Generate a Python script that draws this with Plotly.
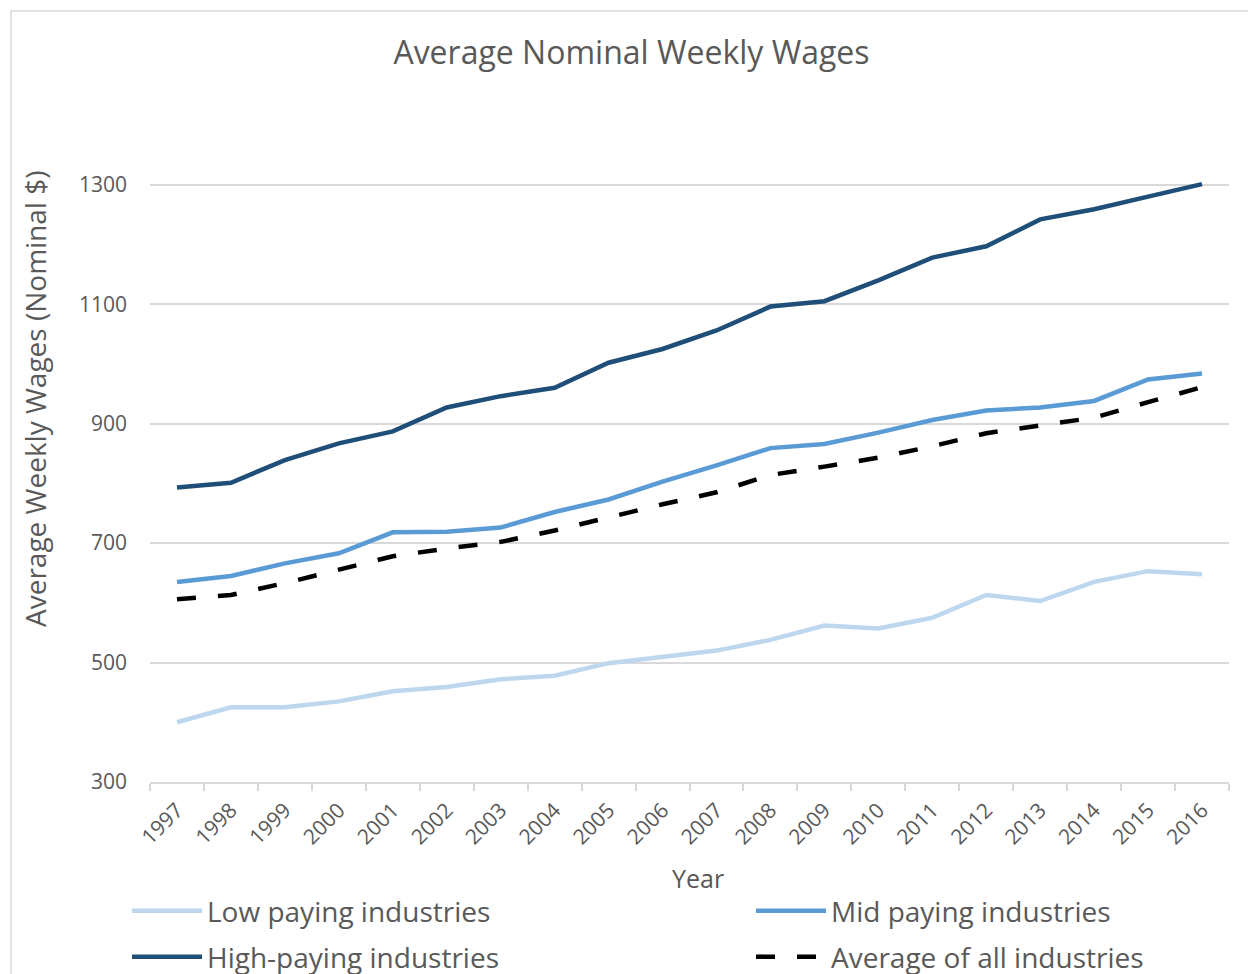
import plotly.graph_objects as go

years = [str(y) for y in range(1997, 2017)]
low_paying = [400, 425, 425, 435, 452, 459, 472, 478, 499, 510, 520, 538, 562, 557, 575, 613, 603, 635, 653, 648]
mid_paying = [635, 645, 666, 683, 718, 719, 726, 752, 773, 803, 830, 859, 866, 885, 906, 922, 927, 938, 974, 984]
high_paying = [793, 801, 839, 867, 887, 927, 946, 960, 1002, 1025, 1056, 1096, 1105, 1140, 1178, 1197, 1242, 1259, 1280, 1301]
average_all = [606, 613, 633, 656, 678, 691, 702, 721, 743, 765, 785, 814, 828, 843, 862, 884, 897, 910, 936, 961]
y_ticks = [300, 500, 700, 900, 1100, 1300]

FONT = "Open Sans"
GREY = "#595959"
W, H = 1248, 974
ML, MR, MT, MB = 150, 19, 125, 192
pw = W - ML - MR
ph = H - MT - MB

fig = go.Figure()
fig.add_trace(go.Scatter(x=years, y=low_paying, mode="lines", name="Low paying industries",
                         legend="legend", line=dict(color="#BDD7EE", width=4.5)))
fig.add_trace(go.Scatter(x=years, y=mid_paying, mode="lines", name="Mid paying industries",
                         legend="legend2", line=dict(color="#5B9BD5", width=4.5)))
fig.add_trace(go.Scatter(x=years, y=high_paying, mode="lines", name="High-paying industries",
                         legend="legend3", line=dict(color="#1F4E79", width=4.5)))
fig.add_trace(go.Scatter(x=years, y=average_all, mode="lines", name="Average of all industries",
                         legend="legend4", line=dict(color="#000000", width=4.5, dash="19px,22px")))

fig.add_shape(type="rect", xref="paper", yref="paper",
              x0=(11 - ML) / pw, x1=(W + 20 - ML) / pw,
              y0=-(H + 20 - MT - ph) / ph, y1=(H - MB - 11) / ph,
              line=dict(color="#D9D9D9", width=1.5), fillcolor="rgba(0,0,0,0)", layer="below")

fig.add_annotation(text="Average Weekly Wages (Nominal $)", textangle=-90,
                   xref="paper", yref="paper", x=(35 - ML) / pw, y=(H - MB - 399) / ph,
                   xanchor="center", yanchor="middle", showarrow=False,
                   font=dict(size=28, color=GREY, family=FONT))
fig.add_annotation(text="Year", xref="paper", yref="paper",
                   x=(698 - ML) / pw, y=(H - MB - 878) / ph,
                   xanchor="center", yanchor="middle", showarrow=False,
                   font=dict(size=25, color=GREY, family=FONT))


def legend_at(x_px, top_px):
    return dict(
        orientation="h", xref="container", yref="container",
        x=x_px / W, xanchor="left", y=1 - top_px / H, yanchor="top",
        itemwidth=70, font=dict(size=28, color=GREY, family=FONT),
        bgcolor="rgba(0,0,0,0)",
    )


fig.update_layout(
    width=W, height=H,
    margin=dict(l=ML, r=MR, t=MT, b=MB, autoexpand=False),
    paper_bgcolor="white", plot_bgcolor="white",
    font=dict(family=FONT, color=GREY),
    title=dict(text="Average Nominal Weekly Wages", x=0.506, xanchor="center",
               y=1 - 53 / H, yanchor="middle", font=dict(size=32, color=GREY, family=FONT)),
    xaxis=dict(
        type="category", range=[-0.5, len(years) - 0.5], automargin=False,
        tickangle=-45, tickson="boundaries", ticks="outside", ticklen=7,
        tickcolor="#D9D9D9", tickwidth=1.5, showline=True, linecolor="#D9D9D9", linewidth=1.5,
        showgrid=False, tickfont=dict(size=21, color=GREY), ticklabelstandoff=6,
    ),
    yaxis=dict(
        range=[300, 1400], tickvals=y_ticks, automargin=False, showgrid=True,
        gridcolor="#D9D9D9", gridwidth=1.5,
        zeroline=False, showline=False, tickfont=dict(size=21, color=GREY), ticklabelstandoff=22,
    ),
    legend=legend_at(127, 886),
    legend2=legend_at(751, 886),
    legend3=legend_at(127, 932),
    legend4=legend_at(751, 932),
    showlegend=True,
)

fig.write_html("out.html", config={"displayModeBar": False},
               post_script="document.body.style.margin='0px';document.body.style.overflow='hidden';")
